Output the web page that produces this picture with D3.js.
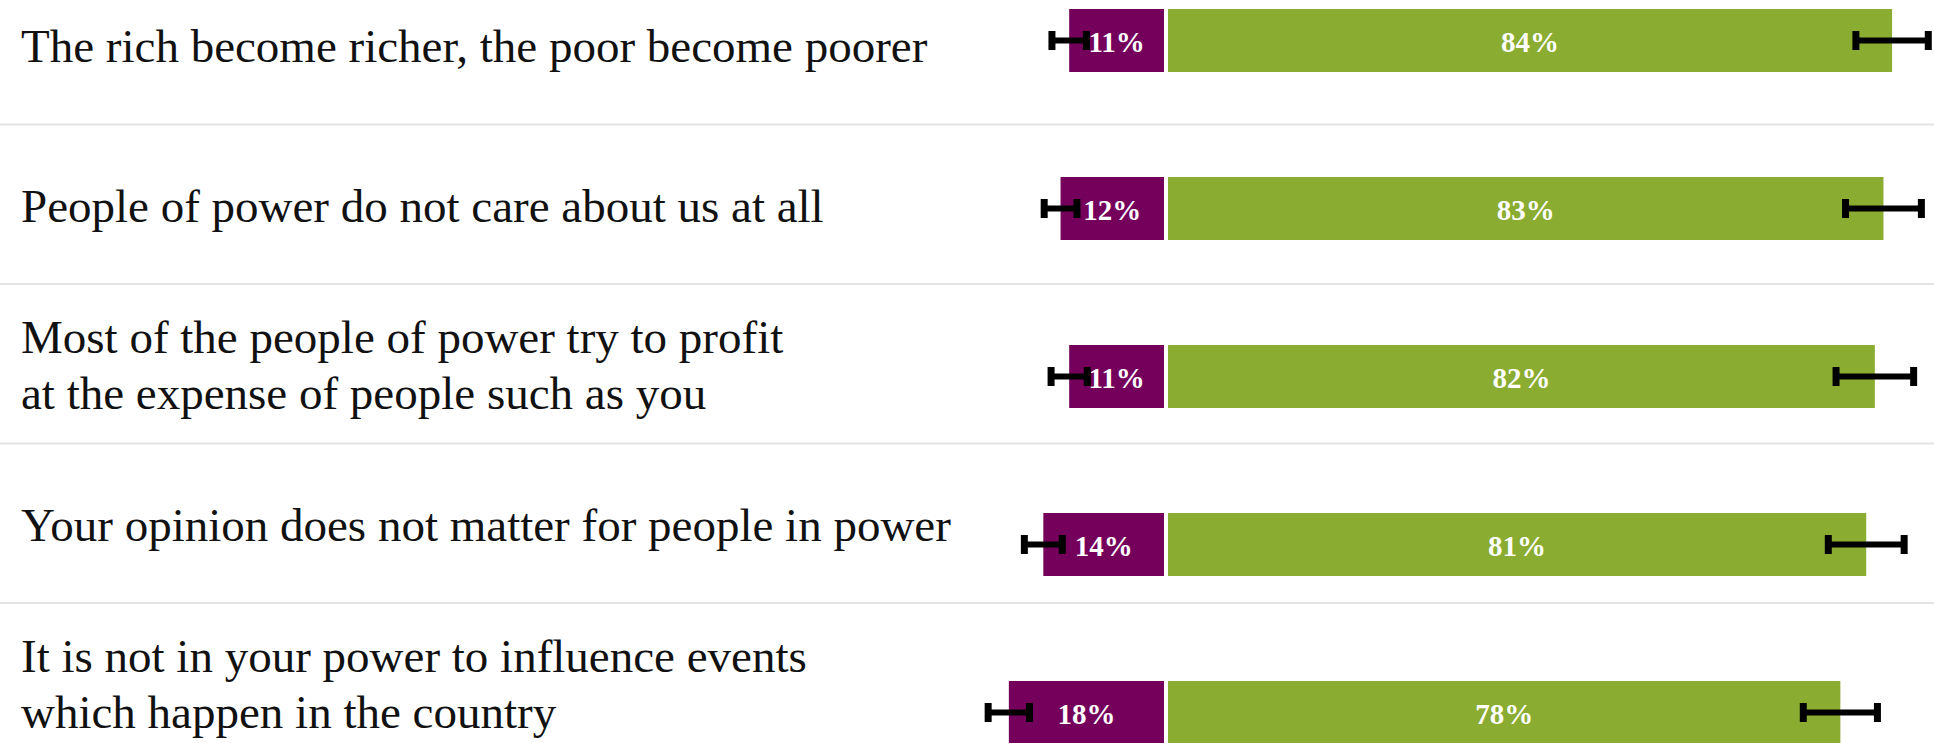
<!DOCTYPE html>
<html>
<head>
<meta charset="utf-8">
<script src="https://cdn.jsdelivr.net/npm/d3@7/dist/d3.min.js"></script>
<style>
  html, body { margin: 0; padding: 0; background: #fff; }
  svg { display: block; }
</style>
</head>
<body>
<svg id="chart" width="1934" height="743"></svg>
<script>
// Statements (a "|" marks a line break in the label)
const statements = [
  "The rich become richer, the poor become poorer",
  "People of power do not care about us at all",
  "Most of the people of power try to profit|at the expense of people such as you",
  "Your opinion does not matter for people in power",
  "It is not in your power to influence events|which happen in the country"
];
// Share disagreeing / agreeing, in percent
const disagree = [11, 12, 11, 14, 18];
const agree = [84, 83, 82, 81, 78];
// Margins of error, in percentage points
const disagreeMoE = [2.0, 1.9, 2.1, 2.2, 2.4];
const agreeMoE = [4.2, 4.4, 4.5, 4.4, 4.3];

const purple = "#74005c";
const green = "#8aac30";

const W = 1934, H = 743;
const svg = d3.select("#chart");
svg.append("rect").attr("width", W).attr("height", H).attr("fill", "#fff");

const idx = d3.range(statements.length);

// Horizontal scale: percent -> pixels, bars diverge from a shared centre
const centre = 1166, gap = 2;
const x = d3.scaleLinear().domain([0, 100]).range([0, 862]);

// Text rows (with separators) and bar rows use their own vertical bands
const rowBand = d3.scaleBand().domain(idx).range([-35, -35 + 159.5 * idx.length]).padding(0);
const barBand = d3.scaleBand().domain(idx).range([9, 744]).paddingInner(0.625).paddingOuter(0);

// Separators
svg.append("g").selectAll("line")
  .data(idx.slice(1))
  .join("line")
  .attr("x1", 0).attr("x2", W)
  .attr("y1", i => rowBand(i)).attr("y2", i => rowBand(i))
  .attr("stroke", "#e4e4e4").attr("stroke-width", 2);

// Statement labels
const lineH = 56;
const labels = svg.append("g")
  .attr("font-family", "'Liberation Serif', 'Times New Roman', serif")
  .attr("font-size", 47)
  .attr("fill", "#111");
labels.selectAll("text")
  .data(idx)
  .join("text")
  .attr("x", 21)
  .attr("y", i => {
    const n = statements[i].split("|").length;
    return rowBand(i) + 97 - (n - 1) * lineH / 2;
  })
  .each(function(i) {
    d3.select(this).selectAll("tspan")
      .data(statements[i].split("|"))
      .join("tspan")
      .attr("x", 21)
      .attr("dy", (d, k) => k === 0 ? 0 : lineH)
      .text(d => d);
  });

// Bars
const bars = svg.append("g");
bars.selectAll("rect.dis")
  .data(idx)
  .join("rect")
  .attr("class", "dis")
  .attr("x", i => centre - gap - x(disagree[i]))
  .attr("width", i => x(disagree[i]))
  .attr("y", i => barBand(i))
  .attr("height", barBand.bandwidth())
  .attr("fill", purple);
bars.selectAll("rect.agr")
  .data(idx)
  .join("rect")
  .attr("class", "agr")
  .attr("x", centre + gap)
  .attr("width", i => x(agree[i]))
  .attr("y", i => barBand(i))
  .attr("height", barBand.bandwidth())
  .attr("fill", green);

// Value labels inside bars
const vals = svg.append("g")
  .attr("font-family", "'Liberation Serif', 'Times New Roman', serif")
  .attr("font-weight", "bold")
  .attr("font-size", 29)
  .attr("fill", "#fff")
  .attr("text-anchor", "middle")
  .attr("dominant-baseline", "central");
vals.selectAll("text.dis")
  .data(idx)
  .join("text")
  .attr("class", "dis")
  .attr("x", i => centre - gap - x(disagree[i]) / 2)
  .attr("y", i => barBand(i) + barBand.bandwidth() / 2 + 1)
  .text(i => disagree[i] + "%");
vals.selectAll("text.agr")
  .data(idx)
  .join("text")
  .attr("class", "agr")
  .attr("x", i => centre + gap + x(agree[i]) / 2)
  .attr("y", i => barBand(i) + barBand.bandwidth() / 2 + 1)
  .text(i => agree[i] + "%");

// Error bars centred on each bar's end
const errors = [];
idx.forEach(i => {
  errors.push({ i, c: centre - gap - x(disagree[i]), m: x(disagreeMoE[i]) });
  errors.push({ i, c: centre + gap + x(agree[i]), m: x(agreeMoE[i]) });
});
const eg = svg.append("g").attr("stroke", "#000");
const ebar = eg.selectAll("g").data(errors).join("g")
  .attr("transform", d => `translate(0,${barBand(d.i) + barBand.bandwidth() / 2})`);
ebar.append("line")
  .attr("stroke-width", 6)
  .attr("x1", d => d.c - d.m).attr("x2", d => d.c + d.m)
  .attr("y1", 0).attr("y2", 0);
ebar.append("line")
  .attr("stroke-width", 7)
  .attr("x1", d => d.c - d.m).attr("x2", d => d.c - d.m)
  .attr("y1", -9.5).attr("y2", 9.5);
ebar.append("line")
  .attr("stroke-width", 7)
  .attr("x1", d => d.c + d.m).attr("x2", d => d.c + d.m)
  .attr("y1", -9.5).attr("y2", 9.5);
</script>
</body>
</html>
